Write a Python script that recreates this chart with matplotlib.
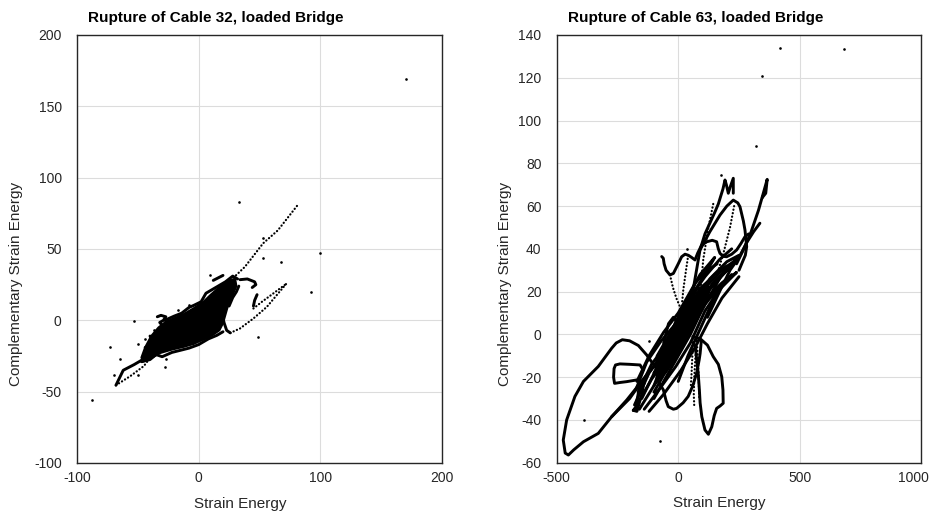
import matplotlib
matplotlib.use("Agg")
import matplotlib.pyplot as plt
import matplotlib.transforms as mtransforms

plt.rcParams['font.family'] = ['Liberation Sans', 'DejaVu Sans']
plt.rcParams['axes.unicode_minus'] = False

# ---------------- Cable 32 ----------------
c32_title = "Rupture of Cable 32, loaded Bridge"
c32_xticks = [-100, 0, 100, 200]
c32_yticks = [-100, -50, 0, 50, 100, 150, 200]

# isolated samples
c32_pts_x = [170, 33, 100, 92, 68, 53, 53, 49, -88, -73, -53.5, -65, -70, -50, -50, -44, -37, -27, -28, -17, -8, 9]
c32_pts_y = [169, 83, 47.5, 20, 41, 44, 58, -12, -56, -19, -0.5, -27, -38, -38, -16.5, -13, -6.5, -27, -33, 7, 11, 32]

# dense core of the response cloud (outline)
c32_core_x = [-46, -40, -32, -22, -12, -4, 5, 12, 17, 20, 22, 24, 28, 31, 30, 25, 18, 10, 4, -4, -12, -20, -27, -33, -39, -44, -47]
c32_core_y = [-29, -27, -23, -20.5, -18.5, -16.5, -13, -10, -7, -2, 4, 10, 18, 24, 29, 28, 24, 18, 13, 8.5, 4.5, 1.5, -1, -5, -11, -19, -26]

# continuous trajectories
c32_lower_edge_x = [-47, -40, -35, -30, -22, -15, -8, 0, 8, 15, 20]
c32_lower_edge_y = [-29, -27.5, -24, -25.5, -22.5, -21, -19.5, -17, -13, -10.5, -8]
c32_upper_edge_x = [-28, -20, -14, -8, -4, 2, 6, 10, 16, 22, 28, 32]
c32_upper_edge_y = [0, 3, 5, 9, 10.5, 13, 19, 21, 24, 27, 31, 29]
c32_sloop_x = [-34, -31, -27, -29, -32, -30, -26]
c32_sloop_y = [2.5, 3.5, 2.5, 0, -1.5, -3.5, -3]
c32_tip_x = [-68, -62, -53, -45]
c32_tip_y = [-45.5, -35, -31, -27]
c32_hook_x = [34, 40, 46, 47, 44]
c32_hook_y = [28.5, 29, 27, 25, 23]
c32_arc_x = [48, 46, 45]
c32_arc_y = [18, 14, 10]
c32_dash_x = [12, 20]
c32_dash_y = [28, 31.5]
c32_drop_x = [15, 17, 19, 21, 23, 26]
c32_drop_y = [21, 12, 4.8, -2, -7, -8.8]
c32_spur1_x = [25, 28, 31, 33]
c32_spur1_y = [10, 16, 20, 24]
c32_spur2_x = [20, 24, 27, 25]
c32_spur2_y = [5, 12, 20, 26]
c32_frag1_x = [-40, -37]
c32_frag1_y = [-11, -16]
c32_frag2_x = [-44, -41]
c32_frag2_y = [-19, -22]

# sparsely sampled trajectories
c32_long_x = [-68, -56, -45, -37, -30, -10, 8, 20, 30, 38, 53, 65, 82]
c32_long_y = [-45.5, -39, -32, -23, -16, 0, 14, 24, 31, 37.5, 54, 63, 81.5]
c32_tail_a_x = [26, 34, 45, 56, 72]
c32_tail_a_y = [-8.8, -5.7, 1.3, 9.4, 25.6]
c32_tail_b_x = [45, 52, 60, 72]
c32_tail_b_y = [8.3, 13, 18, 25.6]

# ---------------- Cable 63 ----------------
c63_title = "Rupture of Cable 63, loaded Bridge"
c63_xticks = [-500, 0, 500, 1000]
c63_yticks = [-60, -40, -20, 0, 20, 40, 60, 80, 100, 120, 140]

c63_pts_x = [420, 682, 345, 319, 178, -386, -76, -122, 37]
c63_pts_y = [134, 133.5, 121, 88, 74.5, -40, -50, -3, 40]

# dense core of the oscillation band (outline)
c63_core_x = [-90, -50, -10, 40, 90, 120, 130, 90, 40, 0, -50, -90]
c63_core_y = [-10, -2, 6, 14, 22, 25, 20, 10, -2, -10, -18, -22]

c63_bigloop_x = [-68, -96, -130, -164, -200, -230, -255, -274, -329, -390, -425, -459, -473, -465, -452, -430, -390, -329, -274, -212, -157, -110]
c63_bigloop_y = [-20, -15, -9.6, -5.2, -3, -2.5, -4, -6.5, -15, -22, -29, -40, -49.4, -55.5, -56.4, -54, -50.2, -46.3, -38.5, -30.7, -22.9, -16]
c63_rect_x = [-144, -157, -200, -240, -258, -264, -266, -262, -240, -212, -171, -140]
c63_rect_y = [-16.7, -14.3, -14, -13.8, -14.3, -16, -20, -22.9, -22.5, -22.1, -21.3, -23]
c63_cloop_x = [-82, -61, -50, -41, -20, -6.6, 20, 41, 60, 76, 86, 90, 95]
c63_cloop_y = [-22, -26, -31, -33.8, -35, -34.6, -32, -29, -24, -18, -12, -9, -3]
c63_lobe_x = [60, 90, 120, 144, 165, 179, 184, 185, 172, 158, 148, 138, 124, 110, 97, 90, 87, 82, 76, 70]
c63_lobe_y = [-1, -2, -5, -10.4, -14, -19.8, -26, -32.2, -33.5, -34.6, -38, -43.2, -46.7, -44.7, -38.5, -32, -26, -18, -12, -5]
c63_arrow_x = [240, 270, 300, 330, 350, 366, 360, 346]
c63_arrow_y = [33, 40, 48, 58, 66, 72.5, 66, 64]
c63_ray_x = [336, 310, 282, 250, 213, 170, 120]
c63_ray_y = [52, 48, 43, 36, 30, 20, 8]
c63_arch_x = [60, 89.6, 130, 171.8, 200, 226.5, 245, 254, 268, 274.6, 281.6, 276, 267.7, 250]
c63_arch_y = [20, 39.5, 48, 55.8, 60, 62.8, 61.5, 59.7, 53, 48.8, 41, 37, 34.8, 30]
c63_wave_x = [-68, -61.5, -58, -50, -34, -20, -13.3, 0, 14, 28, 41.4, 55, 69, 80, 96.5, 117, 140, 158, 165, 171.8, 185, 199, 220, 240.5, 258, 274.7, 290]
c63_wave_y = [36.4, 35.6, 33, 30, 27.8, 28.5, 30, 33, 36.3, 37.5, 37, 36, 34.8, 38, 41.8, 43.3, 44, 43.3, 40, 37.9, 36.5, 36.3, 37.5, 39.5, 42.5, 45.7, 47]
c63_zig_x = [89.6, 110, 130, 150, 165, 172, 184, 192.4, 198, 206, 214, 226.5, 226.5]
c63_zig_y = [39.5, 47, 52, 57, 61, 63.6, 68, 72.2, 70, 66, 69, 73, 66]

# dense band of oscillations (back-and-forth sweeps)
c63_sweep_a_x = [-170, -120, -60, 0, 50, 90, 150, 120, 60, 0]
c63_sweep_a_y = [-22, -10, 1, 10, 20, 28, 36, 30, 19, 8]
c63_sweep_b_x = [-175, -130, -70, 5, 60, 110, 170, 220]
c63_sweep_b_y = [-26, -13, -3, 7, 19, 27, 35, 40]
c63_sweep_c_x = [-165, -110, -50, 10, 70, 130, 200, 250, 200, 130, 60]
c63_sweep_c_y = [-27, -14, -5, 4, 16, 26, 34, 37, 30, 21, 9]
c63_sweep_d_x = [-180, -120, -60, 0, 60, 120, 190, 240]
c63_sweep_d_y = [-33, -18, -8, 1, 13, 23, 31, 35]
c63_sweep_e_x = [-170, -110, -40, 20, 80, 140, 210, 150, 90, 30, -30, -100]
c63_sweep_e_y = [-33, -21, -10, 0, 14, 23, 31, 25, 16, 4, -6, -18]
c63_sweep_f_x = [-160, -100, -30, 30, 90, 150, 220]
c63_sweep_f_y = [-35, -24, -12, -3, 13, 21, 28]
c63_sweep_g_x = [-140, -80, -10, 50, 110, 170, 240, 180, 110, 40, -30, -100]
c63_sweep_g_y = [-35, -26, -15, -4, 11, 21, 29, 24, 14, 0, -13, -27]
c63_sweep_h_x = [-120, -60, 10, 70, 120, 180, 250]
c63_sweep_h_y = [-36, -28, -17, -6, 5, 17, 27]
c63_sweep_i_x = [-150, -90, -45, -10, 30, 70, 110, 160]
c63_sweep_i_y = [-30, -16, -4, 6, 14, 24, 29, 33]
c63_sweep_j_x = [-100, -60, -30, 10, 50, 100, 150, 200, 150, 100, 50, 0, -50, -100]
c63_sweep_j_y = [-24, -12, -2, 4, 12, 22, 28, 32, 22, 12, 0, -10, -20, -30]
c63_bump_x = [-60, -40, -20, 0, -30, -50]
c63_bump_y = [-4, 5, 8, 5, -5, -10]
c63_knot_x = [-185, -170, -150, -140, -160, -175, -185]
c63_knot_y = [-35.5, -36, -28, -22, -25, -34, -35.5]
c63_patch_x = [40, 60, 80, 100, 70, 50, 40]
c63_patch_y = [10, 18, 22, 20, 12, 8, 10]
c63_feeder_x = [-274, -200, -150, -100, -50, 0]
c63_feeder_y = [-38.5, -30, -22, -15, -8, 0]
c63_inner_x = [0, 40, 80, 120, 160]
c63_inner_y = [-22, -10, 0, 10, 20]

# sparsely sampled descents
c63_dot1_x = [-34, -22, -8, 7, 15]
c63_dot1_y = [27.8, 22, 17, 13, 8]
c63_dot2_x = [41, 32, 21, 15]
c63_dot2_y = [37, 30, 21, 14]
c63_dot3_x = [144, 124, 103, 90, 80]
c63_dot3_y = [61, 50, 35, 19, 8]
c63_dot4_x = [230, 213, 186, 165, 150]
c63_dot4_y = [60, 50, 38, 30, 22]
c63_dot5_x = [60, 58, 55, 52]
c63_dot5_y = [-2, -10, -18, -24]
c63_dot6_x = [75, 70, 66, 64, 66]
c63_dot6_y = [-3, -12, -20, -28, -34]
c63_dot7_x = [76, 80, 84, 87]
c63_dot7_y = [-1, -10, -20, -30.7]

fig = plt.figure(figsize=(9.31, 5.16), dpi=100)
ax1 = fig.add_axes([77 / 931, 53 / 516, 365 / 931, 428 / 516])
ax2 = fig.add_axes([556.7 / 931, 53.3 / 516, 364.6 / 931, 427.7 / 516])

SOLID = dict(color='black', lw=2.1, solid_capstyle='round', solid_joinstyle='round')
DOTTED = dict(color='black', lw=1.6, linestyle=(0, (0.1, 1.5)), dash_capstyle='round')
TEXT = '#262626'


def style(ax, xlim, ylim, xticks, yticks, title, ylab_x):
    ax.set_xlim(*xlim)
    ax.set_ylim(*ylim)
    ax.set_xticks(xticks)
    ax.set_yticks(yticks)
    ax.grid(True, color='#dcdcdc', lw=0.8)
    ax.set_axisbelow(True)
    ax.tick_params(length=0, labelsize=10, colors=TEXT)
    ax.tick_params(axis='x', pad=6)
    ax.tick_params(axis='y', pad=11)
    for s in ax.spines.values():
        s.set_color(TEXT)
        s.set_linewidth(1.0)
    ax.text(0.381, 1.031, title, transform=ax.transAxes, ha='center', va='baseline',
            fontsize=11, fontweight='bold', color='black')
    ax.set_xlabel('Strain Energy', fontsize=11, color=TEXT)
    ax.set_ylabel('Complementary Strain Energy', fontsize=11, color=TEXT)
    ax.xaxis.set_label_coords(0.447, -0.079)
    ax.yaxis.set_label_coords(ylab_x, 0.419)


# left panel
ax1.fill(c32_core_x, c32_core_y, color='black', lw=1.5, ec='black')
for xs, ys in [(c32_lower_edge_x, c32_lower_edge_y), (c32_upper_edge_x, c32_upper_edge_y),
               (c32_sloop_x, c32_sloop_y), (c32_tip_x, c32_tip_y), (c32_hook_x, c32_hook_y),
               (c32_arc_x, c32_arc_y), (c32_dash_x, c32_dash_y), (c32_drop_x, c32_drop_y),
               (c32_spur1_x, c32_spur1_y), (c32_spur2_x, c32_spur2_y),
               (c32_frag1_x, c32_frag1_y), (c32_frag2_x, c32_frag2_y)]:
    ax1.plot(xs, ys, **SOLID)
for xs, ys in [(c32_long_x, c32_long_y), (c32_tail_a_x, c32_tail_a_y), (c32_tail_b_x, c32_tail_b_y)]:
    ax1.plot(xs, ys, **DOTTED)
ax1.plot(c32_pts_x, c32_pts_y, 'o', color='black', ms=1.9, mew=0)
style(ax1, (-100, 200), (-100, 200), c32_xticks, c32_yticks, c32_title, -0.149)

# right panel
ax2.fill(c63_core_x, c63_core_y, color='black', lw=1.0, ec='black')
for xs, ys in [(c63_bigloop_x, c63_bigloop_y), (c63_rect_x, c63_rect_y), (c63_cloop_x, c63_cloop_y),
               (c63_lobe_x, c63_lobe_y), (c63_arrow_x, c63_arrow_y), (c63_ray_x, c63_ray_y),
               (c63_arch_x, c63_arch_y), (c63_wave_x, c63_wave_y), (c63_zig_x, c63_zig_y),
               (c63_sweep_a_x, c63_sweep_a_y), (c63_sweep_b_x, c63_sweep_b_y),
               (c63_sweep_c_x, c63_sweep_c_y), (c63_sweep_d_x, c63_sweep_d_y),
               (c63_sweep_e_x, c63_sweep_e_y), (c63_sweep_f_x, c63_sweep_f_y),
               (c63_sweep_g_x, c63_sweep_g_y), (c63_sweep_h_x, c63_sweep_h_y),
               (c63_sweep_i_x, c63_sweep_i_y), (c63_sweep_j_x, c63_sweep_j_y),
               (c63_bump_x, c63_bump_y), (c63_knot_x, c63_knot_y), (c63_patch_x, c63_patch_y),
               (c63_feeder_x, c63_feeder_y), (c63_inner_x, c63_inner_y)]:
    ax2.plot(xs, ys, **SOLID)
for xs, ys in [(c63_dot1_x, c63_dot1_y), (c63_dot2_x, c63_dot2_y), (c63_dot3_x, c63_dot3_y),
               (c63_dot4_x, c63_dot4_y), (c63_dot5_x, c63_dot5_y), (c63_dot6_x, c63_dot6_y),
               (c63_dot7_x, c63_dot7_y)]:
    ax2.plot(xs, ys, **DOTTED)
ax2.plot(c63_pts_x, c63_pts_y, 'o', color='black', ms=1.9, mew=0)
style(ax2, (-500, 1000), (-60, 140), c63_xticks, c63_yticks, c63_title, -0.1234)

# keep the last x tick label of the right panel inside the figure
fig.canvas.draw()
last = ax2.get_xticklabels()[-1]
last.set_horizontalalignment('right')
last.set_transform(last.get_transform() + mtransforms.ScaledTranslation(8 / 100, 0, fig.dpi_scale_trans))

fig.savefig('out.png', dpi=100)
